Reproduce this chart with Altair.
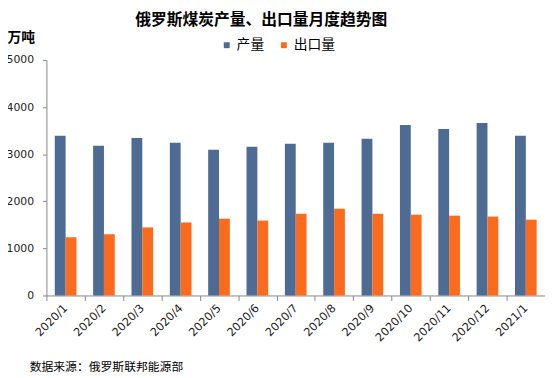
import altair as alt
import pandas as pd

months = ["2020/1", "2020/2", "2020/3", "2020/4", "2020/5", "2020/6", "2020/7",
          "2020/8", "2020/9", "2020/10", "2020/11", "2020/12", "2021/1"]
production = [3390, 3180, 3345, 3245, 3095, 3160, 3220, 3245, 3325, 3620, 3535, 3660, 3390]
exports = [1235, 1300, 1445, 1550, 1630, 1590, 1735, 1840, 1735, 1715, 1695, 1675, 1610]
series = ["产量", "出口量"]
colors = ["#4E6B93", "#FA6B1E"]
title_text = "俄罗斯煤炭产量、出口量月度趋势图"
unit_text = "万吨"
source_text = "数据来源：俄罗斯联邦能源部"

rows = []
for m, p, e in zip(months, production, exports):
    rows.append({"month": m, "series": series[0], "value": p})
    rows.append({"month": m, "series": series[1], "value": e})
df = pd.DataFrame(rows)

CJK = "Noto Sans CJK SC"
NUM = "DejaVu Sans"

bars = alt.Chart(df).mark_bar().encode(
    x=alt.X("month:N", sort=months, title=None,
            scale=alt.Scale(paddingInner=0, paddingOuter=0),
            axis=alt.Axis(labelAngle=-45, labelAlign="right", labelBaseline="middle",
                          labelFont=NUM, labelFontSize=11.5, labelColor="#222222",
                          labelPadding=6, tickBand="extent", tickSize=5,
                          tickColor="#868686", domainColor="#868686", grid=False)),
    xOffset=alt.XOffset("series:N", sort=series,
                        scale=alt.Scale(paddingInner=0, paddingOuter=0.77)),
    y=alt.Y("value:Q", title=unit_text,
            scale=alt.Scale(domain=[0, 5000]),
            axis=alt.Axis(values=[0, 1000, 2000, 3000, 4000, 5000], grid=False, format="d",
                          labelFont=NUM, labelFontSize=11, labelColor="#222222",
                          tickSize=4, labelPadding=9, tickColor="#868686",
                          domainColor="#868686",
                          titleAngle=0, titleAlign="left", titleBaseline="alphabetic",
                          titleX=-40, titleY=-19, titleFont=CJK, titleFontSize=14,
                          titleFontWeight="bold", titleColor="#000000")),
    color=alt.Color("series:N", sort=series,
                    scale=alt.Scale(domain=series, range=colors),
                    legend=alt.Legend(title=None, orient="none", legendX=176, legendY=-22,
                                      direction="horizontal", symbolType="square",
                                      symbolSize=36, labelFont=CJK, labelFontSize=14,
                                      labelColor="#000000", labelOffset=3,
                                      symbolStrokeWidth=0)),
)

footer = alt.Chart(alt.Data(values=[{"t": source_text}])).mark_text(
    align="left", baseline="middle", font=CJK, fontSize=12, color="#000000"
).encode(text="t:N", x=alt.value(-17), y=alt.value(312))

header = alt.Chart(alt.Data(values=[{"t": title_text}])).mark_text(
    align="center", baseline="middle", font=CJK, fontSize=16, fontWeight="bold",
    color="#000000"
).encode(text="t:N", x=alt.value(218), y=alt.value(-41))

chart = alt.layer(bars, footer, header).properties(
    width=506, height=239,
    padding={"left": 39, "top": 50, "right": 0, "bottom": 81},
    autosize=alt.AutoSizeParams(type="none"),
).configure_view(stroke=None).configure_legend(columnPadding=13)

chart.save("out.html", embed_options={"renderer": "svg", "actions": False})
